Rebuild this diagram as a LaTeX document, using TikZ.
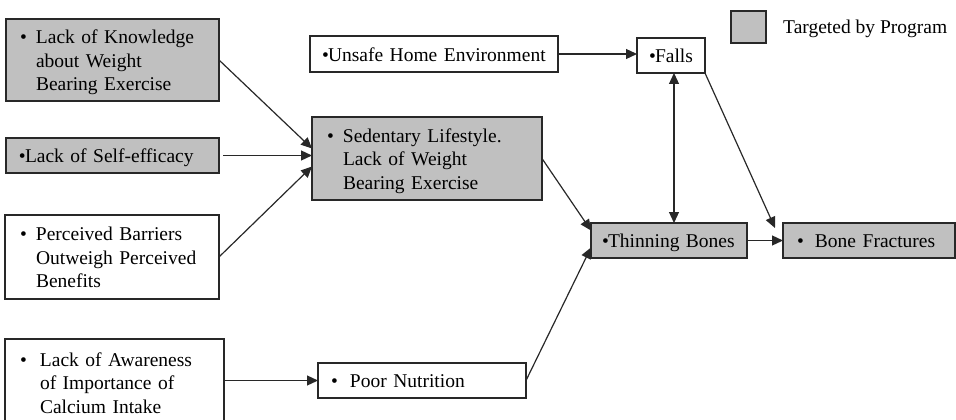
\documentclass[tikz,border=0pt]{standalone}
\usepackage{fontspec}
\setmainfont{Liberation Serif}
\usetikzlibrary{arrows.meta}
\definecolor{boxgray}{RGB}{192,192,192}
\definecolor{linec}{RGB}{40,40,40}
\newcommand\bul[1]{\rule{0pt}{22pt}\makebox[#1][l]{\textbullet}}
\tikzset{
  box/.style={draw=linec, line width=1.6pt, rectangle, anchor=north west, outer sep=0pt,
    inner ysep=0pt, align=left, font=\fontsize{19.5}{23.5}\selectfont},
  tb/.style={box, fill=boxgray},
  arr/.style={draw=linec, line width=1.2pt, -{Triangle[length=11pt,width=10pt]}},
  darr/.style={draw=linec, line width=1.2pt, {Triangle[length=11pt,width=10pt]}-{Triangle[length=11pt,width=10pt]}}
}
\begin{document}
\begin{tikzpicture}[x=1pt,y=-1pt]
\useasboundingbox (0,0) rectangle (956,420);
% left column
\node[tb, minimum width=213pt, minimum height=82pt, inner xsep=14pt, text width=185pt] (k) at (6,19)
  {\begin{tabular}{@{}l@{}l@{}}\bul{16pt}& Lack of Knowledge\\ & about Weight\\ & Bearing Exercise\end{tabular}};
\node[tb, minimum width=213pt, minimum height=35pt, inner xsep=13pt, text width=187pt] (s) at (6,138)
  {\begin{tabular}{@{}l@{}l@{}}\bul{6pt}& Lack of Self-efficacy\end{tabular}};
\node[box, minimum width=214pt, minimum height=84pt, inner xsep=15pt, text width=184pt] (p) at (5,215)
  {\begin{tabular}{@{}l@{}l@{}}\bul{16pt}& Perceived Barriers\\ & Outweigh Perceived\\ & Benefits\end{tabular}};
\node[box, minimum width=219pt, minimum height=87pt, inner xsep=15pt, text width=189pt] (a) at (5,339)
  {\begin{tabular}{@{}l@{}l@{}}\bul{20pt}& Lack of Awareness\\ & of Importance of\\ & Calcium Intake\end{tabular}};
% middle column
\node[box, minimum width=248pt, minimum height=36pt, inner xsep=12pt, text width=224pt] (u) at (310,36)
  {\begin{tabular}{@{}l@{}l@{}}\bul{6pt}& Unsafe Home Environment\end{tabular}};
\node[tb, minimum width=230pt, minimum height=83pt, inner xsep=15pt, text width=200pt] (sed) at (312,117)
  {\begin{tabular}{@{}l@{}l@{}}\bul{16pt}& Sedentary Lifestyle.\\ & Lack of Weight\\ & Bearing Exercise\end{tabular}};
\node[box, minimum width=208pt, minimum height=35pt, inner xsep=13pt, text width=182pt] (pn) at (318,363)
  {\begin{tabular}{@{}l@{}l@{}}\bul{19pt}& Poor Nutrition\end{tabular}};
% right column
\node[box, minimum width=68pt, minimum height=35pt, inner xsep=12pt, text width=44pt] (f) at (637,38)
  {\begin{tabular}{@{}l@{}l@{}}\bul{6pt}& Falls\end{tabular}};
\node[tb, minimum width=156pt, minimum height=35pt, inner xsep=11pt, text width=134pt] (t) at (591,223)
  {\begin{tabular}{@{}l@{}l@{}}\bul{6pt}& Thinning Bones\end{tabular}};
\node[tb, minimum width=172pt, minimum height=35pt, inner xsep=14pt, text width=144pt] (b) at (783,223)
  {\begin{tabular}{@{}l@{}l@{}}\bul{18pt}& Bone Fractures\end{tabular}};
% legend
\node[draw=linec, line width=1.6pt, fill=boxgray, minimum width=35pt, minimum height=32pt, anchor=north west, outer sep=0pt, inner sep=0pt] (leg) at (731,11) {};
\node[anchor=base west, inner sep=0pt, font=\fontsize{19.5}{23.5}\selectfont] (legt) at (783,34) {Targeted by Program};
% connectors
\coordinate (bfin) at ([xshift=-8pt,yshift=-5pt]b.north west);
\draw[arr] (k.east) -- ([yshift=10pt]sed.west);
\draw[arr] ([xshift=4pt]s.east) -- (s.east -| sed.west);
\draw[arr] (p.east) -- ([yshift=-8pt]sed.west);
\draw[arr] (a.east |- pn.west) -- (pn.west);
\draw[arr] (u.east) -- (u.east -| f.west);
\draw[darr] ([xshift=3pt]f.south) -- ([xshift=3pt]f.south |- t.north);
\draw[arr] (f.south east) -- (bfin);
\draw[arr] (t.east) -- (b.west);
\draw[arr] (sed.east) -- ([yshift=10pt]t.west);
\draw[arr] (pn.east) -- ([yshift=-7pt]t.west);
\end{tikzpicture}
\end{document}
